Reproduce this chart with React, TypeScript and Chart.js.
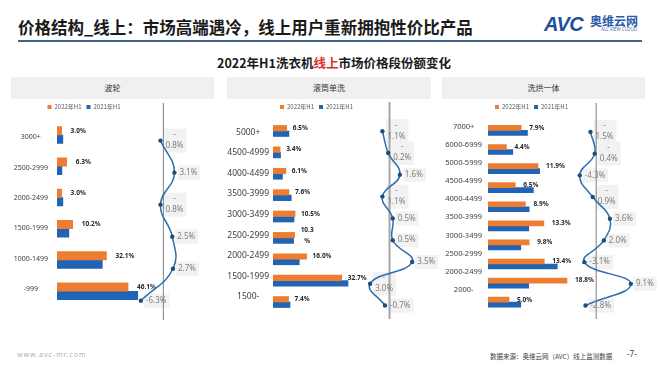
import React, { useEffect, useRef } from 'react';
import { Chart, registerables } from 'chart.js';

Chart.register(...registerables);

const FONT = '"Noto Sans", "Noto Sans CJK SC", sans-serif';
const CJK = '"Noto Sans CJK SC", "Noto Sans", sans-serif';
Chart.defaults.font.family = CJK;

const ORANGE = '#ED7D31';
const BLUE = '#1F64B5';
const LINE = '#2F6EAE';
const POINT = '#1F4E79';

const seriesNames = ['2022年H1', '2021年H1'];

// 波轮
const pulsatorCats = ['3000+', '2500-2999', '2000-2499', '1500-1999', '1000-1499', '-999'];
const pulsator2022 = [3.0, 6.3, 3.0, 10.2, 32.1, 46.1];
const pulsator2021 = [3.8, 3.2, 3.8, 7.7, 29.4, 52.4];
const pulsatorChange = [-0.8, 3.1, -0.8, 2.5, 2.7, -6.3];

// 滚筒单洗
const drumCats = ['5000+', '4500-4999', '4000-4499', '3500-3999', '3000-3499', '2500-2999', '2000-2499', '1500-1999', '1500-'];
const drum2022 = [6.5, 3.4, 6.1, 7.6, 10.5, 10.3, 16.0, 32.7, 7.4];
const drum2021 = [7.6, 3.6, 4.5, 8.7, 10.0, 9.8, 12.5, 35.7, 8.1];
const drumChange = [-1.1, -0.2, 1.6, -1.1, 0.5, 0.5, 3.5, -3.0, -0.7];

// 洗烘一体
const comboCats = ['7000+', '6000-6999', '5000-5999', '4500-4999', '4000-4499', '3500-3999', '3000-3499', '2500-2999', '2000-2499', '2000-'];
const combo2022 = [7.9, 4.4, 11.9, 6.5, 8.9, 13.3, 9.8, 13.4, 18.8, 5.0];
const combo2021 = [9.4, 5.9, 12.3, 10.8, 9.8, 9.7, 7.8, 16.5, 9.7, 7.8];
const comboChange = [-1.5, -0.4, -4.3, -0.9, 3.6, 2.0, -3.1, 9.1, -2.8];

type Panel = {
  title: string;
  cats: string[];
  s2022: number[];
  s2021: number[];
  change: number[];
  left: number;
  width: number;
  barLeft: number;
  barWidth: number;
  axisW: number;
  tickPad: number;
  tickSize: number;
  xMax: number;
  barMin: number;
  barMax: number;
  labMin: number;
  labMax: number;
  thickness: number;
  labelGap: number;
  lineLeft: number;
  lineWidth: number;
  lineXMin: number;
  lineXMax: number;
  lineYMin: number;
  lineYMax: number;
  axisTop: number;
  axisBottom: number;
  axisColor: string;
  axisLineWidth: number;
  wrapIdx: number[];
  barWrapIdx: number[];
};

const TOP = 99;
const H = 226;

const panels: Panel[] = [
  {
    title: '波轮', cats: pulsatorCats, s2022: pulsator2022, s2021: pulsator2021, change: pulsatorChange,
    left: 11, width: 203, barLeft: 11, barWidth: 146, axisW: 46, tickPad: 9, tickSize: 7,
    xMax: 64.9, barMin: -0.479, barMax: 5.659, labMin: -0.562, labMax: 5.737, thickness: 8.5, labelGap: 9,
    lineLeft: 120, lineWidth: 94, lineXMin: -11.03, lineXMax: 13.08, lineYMin: -1.175, lineYMax: 5.633,
    axisTop: 4, axisBottom: 221, axisColor: '#808080', axisLineWidth: 1, wrapIdx: [0, 2], barWrapIdx: [],
  },
  {
    title: '滚筒单洗', cats: drumCats, s2022: drum2022, s2021: drum2021, change: drumChange,
    left: 227, width: 204, barLeft: 227, barWidth: 179, axisW: 46, tickPad: 4, tickSize: 8.5,
    xMax: 63.3, barMin: -0.514, barMax: 8.648, labMin: -0.605, labMax: 8.93, thickness: 5.5, labelGap: 6,
    lineLeft: 340, lineWidth: 105, lineXMin: -7.04, lineXMax: 7.96, lineYMin: -1.296, lineYMax: 8.708,
    axisTop: 3, axisBottom: 220, axisColor: '#a6a6a6', axisLineWidth: 2, wrapIdx: [0, 1, 3, 7], barWrapIdx: [5],
  },
  {
    title: '洗烘一体', cats: comboCats, s2022: combo2022, s2021: combo2021, change: comboChange,
    left: 442, width: 203, barLeft: 442, barWidth: 179, axisW: 46, tickPad: 6, tickSize: 7.5,
    xMax: 31.67, barMin: -0.547, barMax: 9.646, labMin: -0.366, labMax: 10.36, thickness: 5, labelGap: 8,
    lineLeft: 545, lineWidth: 115, lineXMin: -12.37, lineXMax: 15.68, lineYMin: -1.333, lineYMax: 8.711,
    axisTop: 4, axisBottom: 220, axisColor: '#808080', axisLineWidth: 1, wrapIdx: [0, 1, 3], barWrapIdx: [],
  },
];

function BarChart({ p }: { p: Panel }) {
  const ref = useRef<HTMLCanvasElement>(null);
  useEffect(() => {
    const valueLabels = {
      id: 'valueLabels',
      afterDatasetsDraw(chart: any) {
        const ctx = chart.ctx;
        const meta = chart.getDatasetMeta(0);
        ctx.save();
        ctx.font = `bold 6.5px ${FONT}`;
        ctx.fillStyle = '#262626';
        ctx.textAlign = 'left';
        ctx.textBaseline = 'middle';
        meta.data.forEach((el: any, i: number) => {
          const v = p.s2022[i];
          const x = el.x + p.labelGap;
          if (p.barWrapIdx.includes(i)) {
            const t = v.toFixed(1);
            const w = ctx.measureText(t).width;
            ctx.fillText(t, x, el.y - 5);
            ctx.textAlign = 'center';
            ctx.fillText('%', x + w / 2, el.y + 6);
            ctx.textAlign = 'left';
          } else {
            ctx.fillText(v.toFixed(1) + '%', x, el.y);
          }
        });
        ctx.restore();
      },
    };
    const chart = new Chart(ref.current as HTMLCanvasElement, {
      type: 'bar',
      data: {
        datasets: [
          {
            label: seriesNames[0],
            data: p.s2022.map((v, i) => ({ x: v, y: i })),
            backgroundColor: ORANGE,
            borderWidth: 0,
            barThickness: p.thickness,
            xAxisID: 'x',
            yAxisID: 'y',
          },
          {
            label: seriesNames[1],
            data: p.s2021.map((v, i) => ({ x: v, y: i })),
            backgroundColor: BLUE,
            borderWidth: 0,
            barThickness: p.thickness,
            xAxisID: 'x',
            yAxisID: 'y',
          },
        ],
      } as any,
      options: {
        indexAxis: 'y',
        animation: false,
        responsive: false,
        maintainAspectRatio: false,
        layout: { padding: 0 },
        plugins: {
          legend: {
            display: true,
            position: 'top',
            align: 'center',
            labels: {
              boxWidth: 4,
              boxHeight: 4,
              padding: 5,
              color: '#595959',
              font: { size: 6, family: CJK },
            },
          },
          tooltip: { enabled: false },
        },
        scales: {
          x: { type: 'linear', display: false, min: 0, max: p.xMax },
          y: { type: 'linear', display: false, reverse: true, offset: false, min: p.barMin, max: p.barMax },
          yl: {
            type: 'linear',
            position: 'left',
            reverse: true,
            offset: false,
            min: p.labMin,
            max: p.labMax,
            grid: { display: false, drawTicks: false },
            border: { display: false },
            ticks: {
              stepSize: 1,
              includeBounds: false,
              autoSkip: false,
              maxTicksLimit: 30,
              crossAlign: 'center',
              padding: p.tickPad,
              color: '#404040',
              font: { size: p.tickSize, family: FONT },
              callback: (v: any) => (Number.isInteger(v) && p.cats[v] !== undefined ? p.cats[v] : ''),
            },
            afterFit: (s: any) => {
              s.width = p.axisW;
            },
          },
        },
      } as any,
      plugins: [valueLabels],
    });
    return () => chart.destroy();
  }, [p]);
  return (
    <canvas
      ref={ref}
      width={p.barWidth}
      height={H}
      style={{ position: 'absolute', left: p.barLeft, top: TOP, width: p.barWidth, height: H }}
    />
  );
}

function LineChart({ p }: { p: Panel }) {
  const ref = useRef<HTMLCanvasElement>(null);
  useEffect(() => {
    const fmt = (v: number) => (v < 0 ? '-' : '') + Math.abs(v).toFixed(1) + '%';
    const helpers = {
      id: 'lineHelpers',
      beforeDatasetsDraw(chart: any) {
        const ctx = chart.ctx;
        const x0 = chart.scales.x.getPixelForValue(0);
        ctx.save();
        ctx.font = `8px ${FONT}`;
        const meta = chart.getDatasetMeta(0);
        ctx.fillStyle = '#f2f2f2';
        meta.data.forEach((pt: any, i: number) => {
          const v = p.change[i];
          const x = pt.x + 5;
          if (p.wrapIdx.includes(i)) {
            const w = ctx.measureText(Math.abs(v).toFixed(1) + '%').width;
            ctx.fillRect(x - 2, pt.y - 12, w + 5, 24);
          } else {
            const w = ctx.measureText(fmt(v)).width;
            ctx.fillRect(x - 2, pt.y - 7, w + 5, 14);
          }
        });
        ctx.strokeStyle = p.axisColor;
        ctx.lineWidth = p.axisLineWidth;
        ctx.beginPath();
        ctx.moveTo(x0, p.axisTop);
        ctx.lineTo(x0, p.axisBottom);
        ctx.stroke();
        ctx.restore();
      },
      afterDatasetsDraw(chart: any) {
        const ctx = chart.ctx;
        const meta = chart.getDatasetMeta(0);
        ctx.save();
        ctx.font = `8px ${FONT}`;
        ctx.fillStyle = '#7f7f7f';
        ctx.textBaseline = 'middle';
        meta.data.forEach((pt: any, i: number) => {
          const v = p.change[i];
          const x = pt.x + 5;
          if (p.wrapIdx.includes(i)) {
            const t = Math.abs(v).toFixed(1) + '%';
            const w = ctx.measureText(t).width;
            ctx.textAlign = 'center';
            ctx.fillText('-', x + w / 2, pt.y - 6);
            ctx.textAlign = 'left';
            ctx.fillText(t, x, pt.y + 5);
          } else {
            ctx.textAlign = 'left';
            ctx.fillText(fmt(v), x, pt.y);
          }
        });
        ctx.restore();
      },
    };
    const chart = new Chart(ref.current as HTMLCanvasElement, {
      type: 'line',
      data: {
        datasets: [
          {
            label: '变化',
            data: p.change.map((v, i) => ({ x: v, y: i })),
            borderColor: LINE,
            borderWidth: 1.5,
            pointRadius: 2.2,
            pointBackgroundColor: POINT,
            pointBorderColor: POINT,
            pointBorderWidth: 0,
            tension: 0.45,
            fill: false,
            clip: false,
          },
        ],
      } as any,
      options: {
        animation: false,
        responsive: false,
        maintainAspectRatio: false,
        layout: { padding: 0 },
        plugins: { legend: { display: false }, tooltip: { enabled: false } },
        scales: {
          x: { type: 'linear', display: false, min: p.lineXMin, max: p.lineXMax },
          y: { type: 'linear', display: false, reverse: true, min: p.lineYMin, max: p.lineYMax },
        },
      } as any,
      plugins: [helpers],
    });
    return () => chart.destroy();
  }, [p]);
  return (
    <canvas
      ref={ref}
      width={p.lineWidth}
      height={H}
      style={{ position: 'absolute', left: p.lineLeft, top: TOP, width: p.lineWidth, height: H }}
    />
  );
}

export default function App() {
  return (
    <div
      style={{
        position: 'absolute',
        left: 0,
        top: 0,
        width: 660,
        height: 372,
        background: '#ffffff',
        overflow: 'hidden',
        fontFamily: CJK,
      }}
    >
      <div
        style={{
          position: 'absolute',
          left: 18,
          top: 19,
          fontSize: 16.5,
          lineHeight: '17px',
          fontWeight: 700,
          color: '#1a1a1a',
          whiteSpace: 'nowrap',
        }}
      >
        价格结构_线上：市场高端遇冷，线上用户重新拥抱性价比产品
      </div>
      <div style={{ position: 'absolute', left: 18, top: 40, width: 624, height: 2, background: '#3a6890' }} />
      <div
        style={{
          position: 'absolute',
          left: 544,
          top: 14,
          fontFamily: '"Liberation Sans", Arial, sans-serif',
          fontWeight: 900,
          fontStyle: 'italic',
          fontSize: 20,
          lineHeight: '20px',
          color: '#1f4e9e',
          letterSpacing: -0.5,
        }}
      >
        AVC
      </div>
      <div
        style={{
          position: 'absolute',
          left: 590,
          top: 15,
          fontSize: 12,
          lineHeight: '12px',
          fontWeight: 700,
          color: '#2a5aa8',
          whiteSpace: 'nowrap',
        }}
      >
        奥维云网
      </div>
      <div
        style={{
          position: 'absolute',
          left: 601,
          top: 27,
          fontSize: 4.5,
          lineHeight: '5px',
          color: '#4a6fa5',
          fontFamily: FONT,
          whiteSpace: 'nowrap',
        }}
      >
        ALL VIEW CLOUD
      </div>
      <div
        style={{
          position: 'absolute',
          left: 0,
          width: 668,
          top: 55,
          textAlign: 'center',
          fontSize: 12.5,
          lineHeight: '16px',
          fontWeight: 700,
          color: '#1a1a1a',
          whiteSpace: 'nowrap',
        }}
      >
        2022年H1洗衣机<span style={{ color: '#e02b2b' }}>线上</span>市场价格段份额变化
      </div>
      {panels.map((p) => (
        <div
          key={p.title}
          style={{
            position: 'absolute',
            left: p.left,
            top: 77,
            width: p.width,
            height: 22,
            background: '#f0f0f0',
            textAlign: 'center',
            fontSize: 8,
            lineHeight: '22px',
            color: '#333333',
          }}
        >
          {p.title}
        </div>
      ))}
      {panels.map((p) => (
        <BarChart key={'b' + p.title} p={p} />
      ))}
      {panels.map((p) => (
        <LineChart key={'l' + p.title} p={p} />
      ))}
      <div
        style={{
          position: 'absolute',
          left: 17,
          top: 351,
          fontSize: 7,
          lineHeight: '8px',
          letterSpacing: 1,
          color: '#b0b0b0',
          fontFamily: FONT,
        }}
      >
        www.avc-mr.com
      </div>
      <div
        style={{
          position: 'absolute',
          left: 490,
          top: 352,
          fontSize: 6.5,
          lineHeight: '8px',
          color: '#404040',
          whiteSpace: 'nowrap',
        }}
      >
        数据来源：奥维云网（AVC）线上监测数据
      </div>
      <div
        style={{
          position: 'absolute',
          left: 627,
          top: 349,
          fontSize: 8,
          lineHeight: '10px',
          color: '#404040',
          fontFamily: FONT,
        }}
      >
        -7-
      </div>
    </div>
  );
}
